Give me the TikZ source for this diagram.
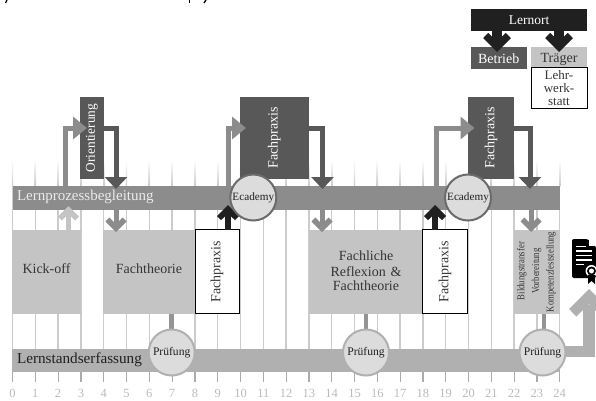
\documentclass[tikz,border=0pt]{standalone}
\usepackage{fontspec}
\setmainfont{Liberation Serif}
\usetikzlibrary{arrows.meta,calc}
\definecolor{gbar}{HTML}{8C8C8C}
\definecolor{gbarb}{HTML}{B0B0B0}
\definecolor{gbox}{HTML}{C4C4C4}
\definecolor{gdark}{HTML}{585858}
\definecolor{gblack}{HTML}{202020}
\definecolor{gline}{HTML}{CCCCCC}
\definecolor{gtick}{HTML}{ABABAB}
\definecolor{gnum}{HTML}{BBBBBB}
\definecolor{gcirc}{HTML}{DCDCDC}
\definecolor{gtext}{HTML}{353535}
\newcommand{\fsz}[1]{\fontsize{#1}{#1}\selectfont}
\newcommand{\chev}[4]{% coordinate, direction (1 = up, -1 = down), scale, colour
  \fill[#4,shift={(#1)},xscale=#3,yscale=#2*#3]
    (0,0)--(10.5,10.5)--(6.7,14.5)--(0,8)--(-6.7,14.5)--(-10.5,10.5)--cycle;}
\tikzset{
  x=1pt,y=-1pt,
  every node/.style={inner sep=0pt,outer sep=0pt,align=center},
  boxg/.style={fill=gbox,text=gtext,font=\fsz{14}},
  boxd/.style={fill=gdark,text=white,font=\fsz{14}},
  boxw/.style={fill=white,draw=black,line width=1pt,text=gtext,font=\fsz{14}},
  barn/.style={minimum height=24pt},
  ecad/.style={circle,minimum size=46pt,fill=gcirc,draw=black!58,line width=2pt,text=gblack,font=\fsz{11.2}},
  pruef/.style={circle,minimum size=46pt,fill=gcirc,draw=gbarb,line width=2pt,text=gblack,font=\fsz{11.6}},
  upin/.style={draw=gbar,line width=5pt,-{Triangle[length=14pt,width=22pt]}},
  downout/.style={draw=gdark,line width=5pt,-{Triangle[length=12pt,width=22pt]}},
  shaft/.style={line width=5pt},
  stem/.style={draw=black!42,line width=4.5pt},
  vert/.style={rotate=90}
}
\begin{document}
\begin{tikzpicture}
\useasboundingbox (0,0) rectangle (596,400);
\fill[white] (0,0) rectangle (596,400);
% cut-off remains of the headline
\draw[black,line width=1.3pt] (7,0)--(5.5,3);
\draw[black,line width=1.8pt] (189.5,0)--(189.5,3);
\draw[black,line width=1.3pt] (204,3)--(206,0);
% time grid
\foreach \i in {0,...,24}{
  \pgfmathsetmacro{\gx}{12.5+22.8*\i}
  \shade[top color=white,bottom color=gline] (\gx-.7,160) rectangle (\gx+.7,186);
  \draw[gline,line width=1.4pt] (\gx,186)--(\gx,349);
  \draw[gtick,line width=1.2pt] (\gx,372)--(\gx,382);
  \node[text=gnum,font=\fsz{12.5}] (n\i) at (\gx,393.5) {\i};
}
% bars
\node[barn,fill=gbar,minimum width=547pt] (bar) at (286,197.5) {};
\node[text=white!92!black,font=\fsz{15},anchor=west] (barl) at (17,197) {Lernprozessbegleitung};
\node[barn,fill=gbarb,minimum width=548pt,minimum height=23pt] (low) at (286,360.5) {};
\node[text=gblack,font=\fsz{15.2},anchor=west] (lowl) at (17,360) {Lernstandserfassung};
% boxes lower row
\node[boxg,minimum width=69pt,minimum height=84.5pt] (kick) at (46.5,271.8) {};
\node[text=gtext,font=\fsz{14}] (kickl) at (46.5,269) {Kick-off};
\node[boxg,minimum width=92pt,minimum height=84.5pt] (theo) at (149,271.8) {};
\node[text=gtext,font=\fsz{14}] (theol) at (149,269) {Fachtheorie};
\node[boxg,minimum width=115pt,minimum height=84.5pt] (refl) at (366,271.8) {};
\node[text=gtext,font=\fsz{14},text width=110pt] (refll) at (366,270.5) {\fontsize{14}{16.5}\selectfont Fachliche\\Reflexion \&\\Fachtheorie};
\node[boxw,minimum width=44.5pt,minimum height=84pt] (fp1) at (217.7,271.8) {};
\node[vert,text=gtext,font=\fsz{14}] (fp1l) at (217,271.5) {Fachpraxis};
\node[boxw,minimum width=44.5pt,minimum height=84pt] (fp2) at (445,271.8) {};
\node[vert,text=gtext,font=\fsz{14}] (fp2l) at (445,271.5) {Fachpraxis};
\node[boxg,minimum width=46pt,minimum height=84.5pt] (last) at (536.7,271.8) {};
\node[vert,text=gtext,font=\fsz{10.5}] (lt1) at (521.7,271) {\scalebox{.83}[1]{Bildungstransfer}};
\node[vert,text=gtext,font=\fsz{10.5}] (lt2) at (536.7,271) {\scalebox{.83}[1]{Vorbereitung}};
\node[vert,text=gtext,font=\fsz{10.5}] (lt3) at (551,272) {\scalebox{.83}[1]{Kompetenzfeststellung}};
% boxes upper row
\node[boxd,minimum width=24pt,minimum height=82pt] (ori) at (92,138) {};
\node[vert,text=white,font=\fsz{13.4}] (oril) at (92,138) {Orientierung};
\node[boxd,minimum width=69.5pt,minimum height=82pt] (fa1) at (274.3,138) {};
\node[vert,text=white,font=\fsz{14}] (fa1l) at (274.3,138) {Fachpraxis};
\node[boxd,minimum width=46pt,minimum height=82pt] (fa2) at (491,138) {};
\node[vert,text=white,font=\fsz{14}] (fa2l) at (491,138) {Fachpraxis};
% legend
\node[fill=gblack,text=white,font=\fsz{13.5},minimum width=116.5pt,minimum height=22pt] (ort) at (529,20) {Lernort};
\node[boxd,minimum width=56pt,minimum height=22pt] (bet) at (498.7,57.5) {};
\node[text=white,font=\fsz{14}] (betl) at (498.7,58.5) {Betrieb};
\node[boxg,minimum width=56pt,minimum height=21pt] (tra) at (559,57) {};
\node[text=gtext,font=\fsz{14}] (tral) at (559,59) {Träger};
\node[boxw,minimum width=56pt,minimum height=41pt,font=\fsz{13},text width=50pt] (lehr) at (559,88) {\fontsize{13}{13.5}\selectfont Lehr-\\werk-\\statt};
% target coordinates of the connectors
\coordinate (t1) at (87,128);
\coordinate (t2) at (246,128);
\coordinate (t3) at (474.5,128);
\coordinate (s1) at (ori.east |- t1);
\coordinate (s2) at (fa1.east |- t2);
\coordinate (s3) at (fa2.east |- t3);
\coordinate (d1) at (116,189);
\coordinate (d2) at (322.5,189);
\coordinate (d3) at (530,189);
\coordinate (c1) at (116,232);
\coordinate (c2) at (322,232);
\coordinate (c3) at (531,232);
\coordinate (k1) at (68.5,206);
\coordinate (b1) at (228,205);
\coordinate (b2) at (435,205);
\coordinate (l1) at (497,52);
\coordinate (l2) at (559,52);
\coordinate (g1) at (589,289);
% connectors
\draw[upin] (bar.north -| 65.2,0) |- (t1);
\draw[upin] (bar.north -| 228,0) |- (t2);
\draw[upin] (bar.north -| 436.7,0) |- (t3);
\draw[downout] (s1) -| (d1);
\draw[downout] (s2) -| (d2);
\draw[downout] (s3) -| (d3);
\draw[shaft,gbar] (bar.south -| c1) -- ($(c1)+(0,-8)$); \chev{c1}{-1}{1}{gbar}
\draw[shaft,gbar] (bar.south -| c2) -- ($(c2)+(0,-8)$); \chev{c2}{-1}{1}{gbar}
\draw[shaft,gbar] (bar.south -| c3) -- ($(c3)+(0,-8)$); \chev{c3}{-1}{1}{gbar}
\draw[shaft,gbox] (kick.north -| k1) -- ($(k1)+(0,8)$); \chev{k1}{1}{1}{gbox}
\draw[line width=6pt,gblack] (fp1.north -| b1) -- ($(b1)+(0,8)$); \chev{b1}{1}{1.05}{gblack}
\draw[line width=6pt,gblack] (fp2.north -| b2) -- ($(b2)+(0,8)$); \chev{b2}{1}{1.05}{gblack}
\draw[line width=9.5pt,gblack] (ort.south -| l1) -- ($(l1)+(0,-10)$); \chev{l1}{-1}{1.32}{gblack}
\draw[line width=9.5pt,gblack] (ort.south -| l2) -- ($(l2)+(0,-10)$); \chev{l2}{-1}{1.32}{gblack}
\draw[gbarb,line width=11.5pt] (low.east |- 0,351.5) -| ($(g1)+(0,16)$);
\chev{g1}{1}{1.9}{gbarb}
\draw[stem] (theo.south -| 171.7,0) -- (171.7,332);
\draw[stem] (refl.south) -- (366,332);
\draw[stem] (last.south -| 544,0) -- (544,332);
% circles
\node[ecad] (ec1) at (253.3,197.5) {Ecademy};
\node[ecad] (ec2) at (468,197.5) {Ecademy};
\node[pruef] (pr1) at (171.7,352.5) {Prüfung};
\node[pruef] (pr2) at (366,352.5) {Prüfung};
\node[pruef] (pr3) at (542.5,352.5) {Prüfung};
% certificate icon
\fill[black,rounded corners=2pt] (572,239) -- (588,239) -- (596,246) -- (596,278) -- (572,278) -- cycle;
\fill[white] (589,239) -- (589,246) -- (596,246) -- (596,239) -- cycle;
\draw[white,line width=1.2pt] (576,246.5)--(586,246.5) (576,251)--(592,251) (576,255.5)--(592,255.5) (576,260)--(592,260) (576,264.5)--(584,264.5);
\fill[white] (591.5,271) circle (6pt);
\fill[black] (591.5,271) circle (4.5pt);
\fill[white] (591.5,271) circle (2.5pt);
\fill[black] (588,275) -- (595,275) -- (595,284) -- (591.5,281) -- (588,284) -- cycle;
\end{tikzpicture}
\end{document}
